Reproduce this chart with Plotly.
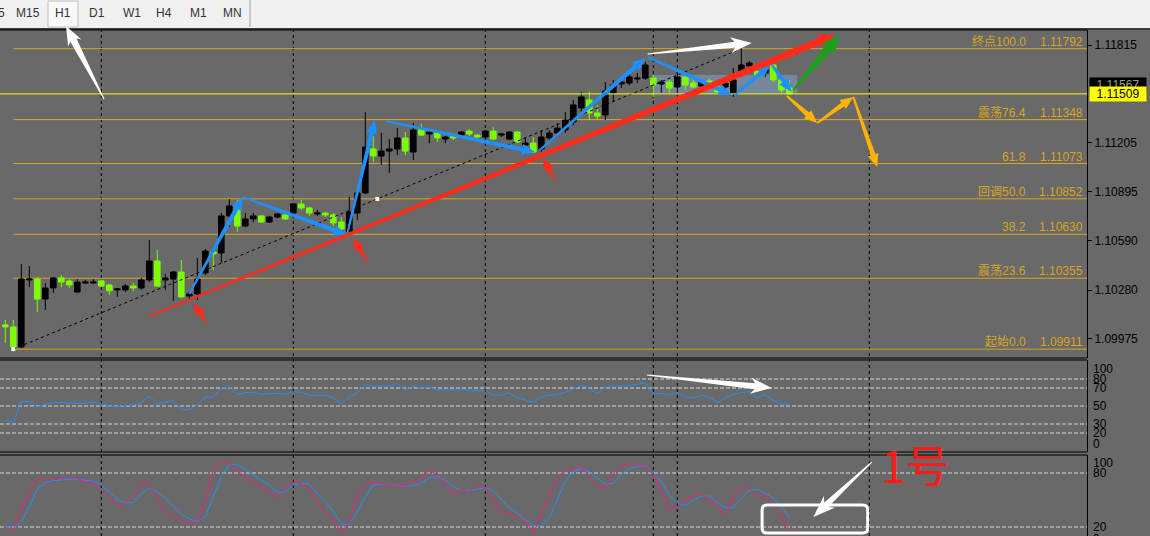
import math
import plotly.graph_objects as go

# ---------------- data ----------------
bar_index = list(range(99))
opens = [1.10063, 1.10050, 1.09925, 1.10344, 1.10350, 1.10225, 1.10294, 1.10357, 1.10338, 1.10269,
         1.10325, 1.10325, 1.10338, 1.10313, 1.10282, 1.10282, 1.10306, 1.10294, 1.10344, 1.10463,
         1.10344, 1.10350, 1.10394, 1.10244, 1.10257, 1.10388, 1.10519, 1.10513, 1.10745, 1.10795,
         1.10682, 1.10726, 1.10745, 1.10707, 1.10738, 1.10751, 1.10763, 1.10820, 1.10795, 1.10757,
         1.10763, 1.10751, 1.10707, 1.10645, 1.10763, 1.10889, 1.11164, 1.11120, 1.11151, 1.11164,
         1.11233, 1.11145, 1.11283, 1.11258, 1.11264, 1.11226, 1.11245, 1.11251, 1.11276, 1.11251,
         1.11239, 1.11276, 1.11251, 1.11226, 1.11270, 1.11189, 1.11201, 1.11164, 1.11233, 1.11264,
         1.11283, 1.11333, 1.11421, 1.11471, 1.11389, 1.11377, 1.11515, 1.11571, 1.11577, 1.11602,
         1.11608, 1.11608, 1.11571, 1.11583, 1.11552, 1.11615, 1.11577, 1.11558, 1.11590, 1.11552,
         1.11552, 1.11515, 1.11627, 1.11684, 1.11671, 1.11640, 1.11690, 1.11596, 1.11546]
highs = [1.10094, 1.10094, 1.10444, 1.10431, 1.10363, 1.10325, 1.10363, 1.10376, 1.10350, 1.10350,
         1.10344, 1.10350, 1.10344, 1.10319, 1.10294, 1.10319, 1.10325, 1.10357, 1.10594, 1.10532,
         1.10382, 1.10400, 1.10469, 1.10269, 1.10482, 1.10538, 1.10525, 1.10763, 1.10851, 1.10845,
         1.10763, 1.10763, 1.10751, 1.10745, 1.10763, 1.10757, 1.10826, 1.10845, 1.10801, 1.10782,
         1.10770, 1.10763, 1.10738, 1.10864, 1.10907, 1.11395, 1.11245, 1.11264, 1.11226, 1.11295,
         1.11270, 1.11327, 1.11320, 1.11283, 1.11270, 1.11245, 1.11258, 1.11276, 1.11289, 1.11258,
         1.11283, 1.11301, 1.11264, 1.11276, 1.11276, 1.11233, 1.11239, 1.11283, 1.11283, 1.11327,
         1.11395, 1.11471, 1.11521, 1.11521, 1.11440, 1.11583, 1.11596, 1.11615, 1.11640, 1.11640,
         1.11709, 1.11627, 1.11596, 1.11596, 1.11646, 1.11621, 1.11596, 1.11596, 1.11602, 1.11577,
         1.11596, 1.11671, 1.11792, 1.11715, 1.11684, 1.11684, 1.11709, 1.11615, 1.11596]
lows = [1.09950, 1.09911, 1.09919, 1.10300, 1.10143, 1.10156, 1.10263, 1.10300, 1.10294, 1.10263,
        1.10319, 1.10319, 1.10300, 1.10251, 1.10238, 1.10269, 1.10276, 1.10282, 1.10331, 1.10300,
        1.10282, 1.10213, 1.10232, 1.10225, 1.10219, 1.10376, 1.10407, 1.10451, 1.10676, 1.10645,
        1.10676, 1.10707, 1.10701, 1.10701, 1.10732, 1.10720, 1.10738, 1.10782, 1.10745, 1.10745,
        1.10738, 1.10682, 1.10657, 1.10632, 1.10720, 1.10882, 1.11082, 1.11064, 1.11014, 1.11126,
        1.11126, 1.11095, 1.11245, 1.11201, 1.11208, 1.11201, 1.11220, 1.11239, 1.11245, 1.11233,
        1.11233, 1.11220, 1.11239, 1.11220, 1.11201, 1.11176, 1.11139, 1.11145, 1.11220, 1.11251,
        1.11264, 1.11314, 1.11395, 1.11345, 1.11345, 1.11345, 1.11458, 1.11546, 1.11565, 1.11577,
        1.11596, 1.11490, 1.11515, 1.11515, 1.11515, 1.11533, 1.11546, 1.11546, 1.11533, 1.11515,
        1.11521, 1.11490, 1.11615, 1.11659, 1.11615, 1.11615, 1.11583, 1.11515, 1.11502]
closes = [1.10050, 1.09925, 1.10350, 1.10350, 1.10225, 1.10294, 1.10357, 1.10331, 1.10313, 1.10331,
          1.10331, 1.10331, 1.10306, 1.10276, 1.10288, 1.10306, 1.10294, 1.10344, 1.10463, 1.10306,
          1.10357, 1.10394, 1.10238, 1.10257, 1.10350, 1.10525, 1.10507, 1.10745, 1.10807, 1.10682,
          1.10726, 1.10745, 1.10707, 1.10738, 1.10757, 1.10726, 1.10820, 1.10795, 1.10763, 1.10763,
          1.10751, 1.10701, 1.10663, 1.10770, 1.10889, 1.11176, 1.11120, 1.11151, 1.11164, 1.11233,
          1.11151, 1.11283, 1.11251, 1.11270, 1.11233, 1.11239, 1.11233, 1.11270, 1.11258, 1.11239,
          1.11276, 1.11226, 1.11258, 1.11270, 1.11208, 1.11201, 1.11145, 1.11239, 1.11264, 1.11295,
          1.11345, 1.11440, 1.11490, 1.11389, 1.11370, 1.11527, 1.11565, 1.11583, 1.11615, 1.11608,
          1.11690, 1.11565, 1.11583, 1.11546, 1.11615, 1.11565, 1.11552, 1.11583, 1.11552, 1.11521,
          1.11577, 1.11596, 1.11690, 1.11702, 1.11627, 1.11659, 1.11596, 1.11533, 1.11509]

rsi = [34, 32, 55, 55, 49, 52, 54, 54, 53, 53,
       53, 54, 53, 50, 49, 51, 51, 54, 61, 52,
       54, 56, 46, 46, 51, 60, 60, 70, 71, 63,
       65, 65, 63, 64, 64, 63, 66, 65, 62, 62,
       62, 59, 53, 60, 65, 74, 72, 72, 72, 75,
       68, 72, 70, 71, 68, 68, 68, 69, 67, 67,
       67, 62, 62, 65, 59, 57, 54, 60, 62, 63,
       65, 69, 73, 70, 64, 71, 72, 72, 73, 74,
       76, 64, 64, 62, 65, 60, 59, 62, 60, 54,
       59, 63, 65, 66, 59, 63, 56, 52, 52]

stoch_k = [20.4, 15.9, 38.9, 60, 73, 72, 73, 74, 75, 73,
           71, 68.5, 62, 54, 44, 45, 54, 70, 68, 51,
           37, 31, 28, 24, 25.5, 50, 83, 92.5, 91, 83,
           75, 68.5, 63, 59, 52.5, 62, 73, 68, 63, 48,
           35, 28, 13.7, 27, 57, 69, 70, 68.5, 67, 67,
           65, 70, 74, 82.5, 78.5, 68.5, 57, 61, 59, 67,
           65, 50, 36.7, 35, 31, 28, 13, 34.4, 55.5, 76,
           82, 85, 87, 76.7, 65.6, 63, 79.6, 87.8, 90, 90,
           87.8, 77.8, 62, 39, 42.6, 50, 54.4, 57, 50.7, 43.3,
           33, 53.7, 64, 64.8, 53.7, 55.5, 44.4, 31.5, 16]
stoch_d = [21.5, 18.5, 26, 42.6, 62, 69.6, 71.5, 72.6, 73, 73,
           72, 71, 66.7, 59, 50.7, 47, 47, 57, 63, 59,
           52, 42.6, 34.4, 28.9, 26, 31.5, 53.7, 76, 89, 90,
           84, 77.8, 72, 66.7, 58.5, 59, 66.7, 68.5, 67.8, 57,
           48, 37, 23, 23, 37, 53.7, 66.7, 67.8, 67.5, 66.3,
           64.8, 66, 68.5, 75, 76, 72, 64.8, 60.4, 60.4, 62,
           63.7, 60.4, 50.7, 41.5, 35, 28.5, 21.8, 21.5, 29.6, 50.7,
           70.4, 81.5, 85, 81, 74, 67.8, 68.5, 78.9, 84.8, 87,
           88, 79.6, 70.4, 55.5, 47, 43.3, 50, 54.4, 54.4, 47,
           41.5, 41.5, 51.5, 61, 61.9, 57.4, 51.9, 42.6, 31.5]

fib_levels = [0.0, 23.6, 38.2, 50.0, 61.8, 76.4, 100.0]
fib_prices = [1.09911, 1.10355, 1.10630, 1.10852, 1.11073, 1.11348, 1.11792]
fib_names = ["起始", "震荡", "", "回调", "", "震荡", "终点"]
fib_start_bar, fib_end_bar = 1, 92

current_price = 1.11509
other_price = 1.11567
price_ticks = [1.09975, 1.10280, 1.10590, 1.10895, 1.11205, 1.11815]
rsi_levels = [20, 30, 50, 70, 80]
rsi_labels = [100, 80, 70, 50, 30, 20, 0]
stoch_levels = [20, 80]
stoch_labels = [100, 80, 20, 0]
day_separators = [12, 36, 60, 84, 108]
marker_line_bar = 81
timeframes = ["M5", "M15", "H1", "D1", "W1", "H4", "M1", "MN"]
selected_tf = "H1"

# drawings anchored to (bar, price) / (bar, oscillator value)
blue_zigzag = [((23.0, 1.10257), (29.7, 1.10864)), ((29.7, 1.10864), (42.7, 1.10626)),
               ((42.7, 1.10626), (46.2, 1.11345)), ((47.6, 1.11339), (66.2, 1.11145)),
               ((66.8, 1.11158), (80.0, 1.11734)), ((80.3, 1.11740), (90.8, 1.11502)),
               ((91.2, 1.11502), (95.6, 1.11690)), ((95.8, 1.11690), (98.3, 1.11521))]
red_trend = ((18.0, 1.10118), (103.7, 1.11878))
red_markers = [((25.2, 1.10075), (23.5, 1.10200)), ((45.3, 1.10451), (43.5, 1.10607)),
               ((68.7, 1.10970), (67.2, 1.11108))]
green_arrow = ((98.5, 1.11533), (104.3, 1.11878))
orange_path = [((97.7, 1.11496), (101.5, 1.11327)), ((101.5, 1.11327), (106.0, 1.11490)),
               ((106.0, 1.11490), (109.0, 1.11051))]
white_main = ((80.3, 1.11759), (93.3, 1.11828))
white_rsi = ((80.2, 84.4), (95.8, 70.0))
white_stoch = ((108.3, 92.2), (101.0, 31.1))
white_box = ((94.6, 44.4), (107.8, 13.3))
range_box = ((81, 1.11515), (99, 1.11627))

# ---------------- layout geometry ----------------
W, H = 1150, 536
PLOT_RIGHT = 1087
MAIN_TOP, MAIN_BOT = 30, 358
RSI_TOP, RSI_BOT = 360, 452
ST_TOP, ST_BOT = 455, 536
XR = [-0.6625, 135.2125]
PR = [1.098556, 1.119089]
RR = [-1.1, 101.1]
SR = [10, 100]
BG = "#696969"
FONT = "Liberation Sans, Arial, Noto Sans CJK SC"


def dom(top, bot):
    return [1 - bot / H, 1 - top / H]


def xpix(b):
    return (b - XR[0]) / (XR[1] - XR[0]) * PLOT_RIGHT


def ypix(v, rng, top, bot):
    return top + (rng[1] - v) / (rng[1] - rng[0]) * (bot - top)


def main_px(p):
    return (xpix(p[0]), ypix(p[1], PR, MAIN_TOP, MAIN_BOT))


def rsi_px(p):
    return (xpix(p[0]), ypix(p[1], RR, RSI_TOP, RSI_BOT))


def st_px(p):
    return (xpix(p[0]), ypix(p[1], SR, ST_TOP, ST_BOT))


def pp(x, y):
    return f"{x / W:.5f},{1 - y / H:.5f}"


def taper(p0, p1, w0, w1, hl, hw, notch=0.0):
    (x0, y0), (x1, y1) = p0, p1
    dx, dy = x1 - x0, y1 - y0
    L = math.hypot(dx, dy)
    ux, uy = dx / L, dy / L
    nx, ny = -uy, ux
    bx, by = x1 - ux * hl, y1 - uy * hl
    pts = [(x0 + nx * w0 / 2, y0 + ny * w0 / 2),
           (bx + nx * w1 / 2, by + ny * w1 / 2),
           (bx - ux * notch + nx * hw / 2, by - uy * notch + ny * hw / 2),
           (x1, y1),
           (bx - ux * notch - nx * hw / 2, by - uy * notch - ny * hw / 2),
           (bx - nx * w1 / 2, by - ny * w1 / 2),
           (x0 - nx * w0 / 2, y0 - ny * w0 / 2)]
    return "M" + " L".join(pp(x, y) for x, y in pts) + " Z"


def arrow_shape(path, color):
    return dict(type="path", path=path, xref="paper", yref="paper",
                fillcolor=color, line=dict(width=0), layer="above")


fig = go.Figure()
fig.add_trace(go.Candlestick(
    x=bar_index, open=opens, high=highs, low=lows, close=closes,
    increasing=dict(line=dict(color="black", width=1), fillcolor="black"),
    decreasing=dict(line=dict(color="#7CFC00", width=1), fillcolor="#7CFC00"),
    whiskerwidth=0, xaxis="x", yaxis="y", hoverinfo="skip", showlegend=False))

# fib trend (dotted) and anchor handles
fig.add_trace(go.Scatter(x=[fib_start_bar, fib_end_bar], y=[fib_prices[0], fib_prices[-1]],
                         mode="lines", line=dict(color="black", width=1, dash="3px,3px"),
                         yaxis="y", hoverinfo="skip", showlegend=False))
fig.add_trace(go.Scatter(x=[fib_start_bar, (fib_start_bar + fib_end_bar) / 2],
                         y=[fib_prices[0], (fib_prices[0] + fib_prices[-1]) / 2],
                         mode="markers", marker=dict(symbol="square", size=4, color="white"),
                         yaxis="y", hoverinfo="skip", showlegend=False))

fig.add_trace(go.Scatter(x=bar_index, y=rsi, mode="lines", line=dict(color="#1E90FF", width=1),
                         yaxis="y2", hoverinfo="skip", showlegend=False))
fig.add_trace(go.Scatter(x=bar_index, y=stoch_d, mode="lines", line=dict(color="#1E90FF", width=1),
                         yaxis="y3", hoverinfo="skip", showlegend=False))
fig.add_trace(go.Scatter(x=bar_index, y=stoch_k, mode="lines", line=dict(color="#F0207F", width=1),
                         yaxis="y3", hoverinfo="skip", showlegend=False))

shapes = []
annotations = []

# toolbar
shapes.append(dict(type="rect", xref="paper", yref="paper", x0=0, x1=1, y0=1 - 28 / H, y1=1,
                   fillcolor="#F0F0F0", line=dict(width=0), layer="above"))
shapes.append(dict(type="rect", xref="paper", yref="paper", x0=0, x1=1, y0=1 - 30 / H, y1=1 - 28 / H,
                   fillcolor="#3C3C3C", line=dict(width=0), layer="above"))
tab_centers = [-4, 28, 63, 97, 132, 164, 198, 232]
for tf, cx in zip(timeframes, tab_centers):
    if tf == selected_tf:
        shapes.append(dict(type="rect", xref="paper", yref="paper", x0=48 / W, x1=78 / W,
                           y0=1 - 27 / H, y1=1 - 1 / H, fillcolor="#F8F8F8",
                           line=dict(color="#C0C0C0", width=1), layer="above"))
    annotations.append(dict(text=tf, x=cx / W, y=1 - 13 / H, xref="paper", yref="paper",
                            showarrow=False, xanchor="center", yanchor="middle",
                            font=dict(family=FONT, size=12, color="#333333")))
shapes.append(dict(type="line", xref="paper", yref="paper", x0=250 / W, x1=250 / W,
                   y0=1 - 27 / H, y1=1, line=dict(color="#A0A0A0", width=1), layer="above"))

# panel borders
for yb in [MAIN_TOP, MAIN_BOT, RSI_TOP, RSI_BOT, ST_TOP]:
    shapes.append(dict(type="line", xref="paper", yref="paper", x0=0, x1=PLOT_RIGHT / W,
                       y0=1 - yb / H, y1=1 - yb / H, line=dict(color="black", width=1), layer="above"))

# vertical separators
for b in day_separators + [marker_line_bar]:
    shapes.append(dict(type="line", xref="x", yref="paper", x0=b, x1=b, y0=0, y1=1 - MAIN_TOP / H,
                       line=dict(color="black", width=1, dash="3px,3px"), layer="below"))

# oscillator level lines
for lv in rsi_levels:
    shapes.append(dict(type="line", xref="x domain", yref="y2", x0=0, x1=1, y0=lv, y1=lv,
                       line=dict(color="#D8D8D8", width=1, dash="4px,2px"), layer="below"))
for lv in stoch_levels:
    shapes.append(dict(type="line", xref="x domain", yref="y3", x0=0, x1=1, y0=lv, y1=lv,
                       line=dict(color="#D8D8D8", width=1, dash="4px,2px"), layer="below"))

# highlighted range box
shapes.append(dict(type="rect", xref="x", yref="y", x0=range_box[0][0], x1=range_box[1][0],
                   y0=range_box[0][1], y1=range_box[1][1], fillcolor="#76879C",
                   line=dict(width=0), layer="below"))

# fibonacci levels
for lvl, pr, nm in zip(fib_levels, fib_prices, fib_names):
    shapes.append(dict(type="line", xref="x", yref="y", x0=fib_start_bar, x1=XR[1], y0=pr, y1=pr,
                       line=dict(color="#DAA520", width=1), layer="below"))
    annotations.append(dict(text=f"{nm}{lvl:.1f}", x=1028 / W, y=pr, xref="paper", yref="y",
                            showarrow=False, xanchor="right", yanchor="middle", yshift=7,
                            font=dict(family=FONT, size=12, color="#DAA520")))
    annotations.append(dict(text=f"{pr:.5f}", x=1085 / W, y=pr, xref="paper", yref="y",
                            showarrow=False, xanchor="right", yanchor="middle", yshift=7,
                            font=dict(family=FONT, size=12, color="#DAA520")))

# current price line
shapes.append(dict(type="line", xref="x domain", yref="y", x0=0, x1=1, y0=current_price,
                   y1=current_price, line=dict(color="#FFFF00", width=1), layer="above"))

# drawn arrows
for a, b in blue_zigzag:
    shapes.append(arrow_shape(taper(main_px(a), main_px(b), 2, 4.5, 13, 11), "#1E90FF"))
shapes.append(arrow_shape(taper(main_px(red_trend[0]), main_px(red_trend[1]), 2, 7, 16, 15), "#FF2A1A"))
for a, b in red_markers:
    shapes.append(arrow_shape(taper(main_px(a), main_px(b), 1, 5, 11, 12, 3), "#FF2A1A"))
shapes.append(arrow_shape(taper(main_px(green_arrow[0]), main_px(green_arrow[1]), 2, 8, 18, 16), "#1E9E1E"))
for a, b in orange_path:
    shapes.append(arrow_shape(taper(main_px(a), main_px(b), 2, 5, 13, 11), "#FFB300"))
shapes.append(arrow_shape(taper(main_px(white_main[0]), main_px(white_main[1]), 1, 6, 17, 16, 4), "white"))
shapes.append(arrow_shape(taper(rsi_px(white_rsi[0]), rsi_px(white_rsi[1]), 1, 6, 17, 16, 4), "white"))
shapes.append(arrow_shape(taper(st_px(white_stoch[0]), st_px(white_stoch[1]), 1, 6, 18, 16, 4), "white"))
shapes.append(arrow_shape(taper((104, 99), (66, 26), 1, 7, 16, 15, 3), "white"))

# white rounded box in stochastic panel
(bx0, by0), (bx1, by1) = st_px(white_box[0]), st_px(white_box[1])
r = 5
rb = (f"M{pp(bx0 + r, by0)} L{pp(bx1 - r, by0)} Q{pp(bx1, by0)} {pp(bx1, by0 + r)} "
      f"L{pp(bx1, by1 - r)} Q{pp(bx1, by1)} {pp(bx1 - r, by1)} L{pp(bx0 + r, by1)} "
      f"Q{pp(bx0, by1)} {pp(bx0, by1 - r)} L{pp(bx0, by0 + r)} Q{pp(bx0, by0)} {pp(bx0 + r, by0)} Z")
shapes.append(dict(type="path", path=rb, xref="paper", yref="paper",
                   line=dict(color="white", width=3), layer="above"))

# price labels on the right
annotations.append(dict(text=f"{other_price:.5f}", x=1089 / W, y=other_price, xref="paper", yref="y",
                        showarrow=False, xanchor="left", yanchor="middle", width=52, height=10,
                        borderpad=2, bgcolor="black", font=dict(family=FONT, size=12, color="#9A9A9A")))
annotations.append(dict(text=f"{current_price:.5f}", x=1089 / W, y=current_price, xref="paper", yref="y",
                        showarrow=False, xanchor="left", yanchor="middle", width=52, height=10,
                        borderpad=2, bgcolor="#FFFF00", font=dict(family=FONT, size=12, color="black")))

# oscillator scale labels
for v in rsi_labels:
    shift = -8 if v == 100 else (7 if v == 0 else 0)
    annotations.append(dict(text=str(v), x=1091 / W, y=v, xref="paper", yref="y2", showarrow=False,
                            xanchor="left", yanchor="middle", yshift=shift,
                            font=dict(family=FONT, size=12, color="black")))
for v in stoch_labels:
    if v == 0:
        annotations.append(dict(text="0", x=1091 / W, y=1 - 539 / H, xref="paper", yref="paper",
                                showarrow=False, xanchor="left", yanchor="middle",
                                font=dict(family=FONT, size=12, color="black")))
        continue
    shift = -8 if v == 100 else 0
    annotations.append(dict(text=str(v), x=1091 / W, y=v, xref="paper", yref="y3", showarrow=False,
                            xanchor="left", yanchor="middle", yshift=shift,
                            font=dict(family=FONT, size=12, color="black")))

# handwritten note
annotations.append(dict(text="1号", x=915 / W, y=1 - 464 / H, xref="paper", yref="paper",
                        showarrow=False, xanchor="center", yanchor="middle",
                        font=dict(family="Noto Sans CJK SC", size=44, color="#FF1A1A")))

fig.update_layout(
    width=W, height=H, autosize=False,
    margin=dict(l=0, r=0, t=0, b=0, pad=0),
    paper_bgcolor=BG, plot_bgcolor=BG, showlegend=False,
    boxgap=0.3, boxgroupgap=0,
    xaxis=dict(domain=[0, PLOT_RIGHT / W], range=XR, anchor="y3", showticklabels=False,
               showgrid=False, zeroline=False, showline=False, ticks="",
               rangeslider=dict(visible=False), fixedrange=True),
    yaxis=dict(domain=dom(MAIN_TOP, MAIN_BOT), range=PR, anchor="x", side="right",
               tickvals=price_ticks, ticktext=[f"{v:.5f}" for v in price_ticks],
               ticks="outside", ticklen=4, tickcolor="black",
               tickfont=dict(family=FONT, size=12, color="black"),
               showgrid=False, zeroline=False, showline=True, linecolor="black", linewidth=1),
    yaxis2=dict(domain=dom(RSI_TOP, RSI_BOT), range=RR, anchor="x", side="right",
                showticklabels=False, ticks="", showgrid=False, zeroline=False,
                showline=True, linecolor="black", linewidth=1),
    yaxis3=dict(domain=dom(ST_TOP, ST_BOT), range=SR, anchor="x", side="right",
                showticklabels=False, ticks="", showgrid=False, zeroline=False,
                showline=True, linecolor="black", linewidth=1),
    shapes=shapes, annotations=annotations,
)

fig.write_html("out.html", config={"displayModeBar": False},
               post_script="document.body.style.margin='0';document.body.style.overflow='hidden';")
